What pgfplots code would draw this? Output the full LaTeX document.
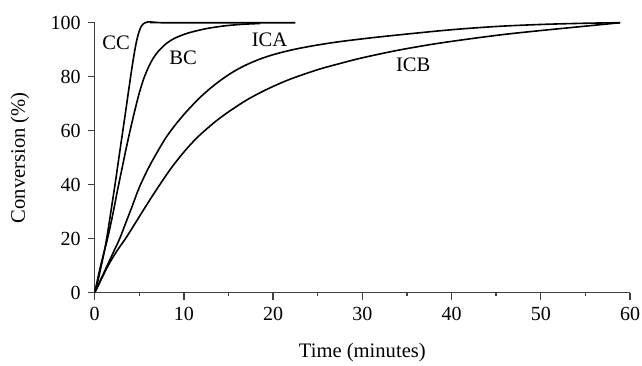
\documentclass[border=0pt]{standalone}
\usepackage{fontspec}
\setmainfont{Liberation Serif}
\usepackage{pgfplots}
\pgfplotsset{compat=1.18}
\begin{document}
\begin{tikzpicture}
\begin{axis}[
  name=ax,
  scale only axis,
  width=267.7pt, height=135pt,
  xmin=0, xmax=60, ymin=0, ymax=100,
  axis lines=left,
  axis line style={-, black!75, line width=0.7pt},
  xtick={0,10,...,60}, ytick={0,20,...,100},
  minor xtick={5,15,...,55},
  tick align=outside,
  major tick length=3.5pt, minor tick length=1.8pt,
  tick style={black!75, line width=0.7pt},
  /pgf/number format/assume math mode=true,
  tick label style={font=\fontsize{10}{12}\selectfont},
  xlabel={Time (minutes)},
  ylabel={Conversion (\%)},
  label style={font=\fontsize{10.3}{12}\selectfont},
  xlabel style={anchor=center, at={(axis description cs:0.5,-0.22)}},
  ylabel style={anchor=center, at={(axis description cs:-0.1397,0.5)}},
  clip=false,
]
% CC
\addplot[black, line width=0.8pt, smooth, tension=0.5] coordinates {
(0,0)(0.3,3.5)(0.67,9)(1.0,14)(1.34,20)(1.7,27.5)(2.0,34)(2.3,40.5)(2.65,48.5)(3.0,56.5)(3.4,65.5)(3.8,74.8)(4.2,83.8)(4.55,90.8)(4.85,95.3)(5.15,98.2)(5.5,99.7)(6.0,100.3)(6.6,100.2)(7.5,100)(22.5,100)
};
% BC
\addplot[black, line width=0.8pt, smooth, tension=0.5] coordinates {
(0,0)(0.67,10)(1.4,19.5)(2.0,28.5)(2.5,37)(3.0,45)(3.5,53)(4.0,60.5)(4.5,67.5)(5.0,74)(5.5,79.3)(6.0,83.3)(6.5,86.5)(7.1,89.3)(8.0,92.2)(9.0,94.3)(10.5,96.2)(12.5,97.8)(14.5,98.8)(16.5,99.4)(18.5,99.7)
};
% ICA
\addplot[black, line width=0.8pt, smooth, tension=0.5] coordinates {
(0,0)(0.7,5)(1.4,10)(2.1,15)(2.8,20)(3.5,26)(4.2,32)(5.0,39)(6.0,46)(7.0,52)(8.0,57.5)(9.0,62)(10,66)(11,69.6)(12,72.9)(13,75.8)(14,78.4)(15,80.7)(16,82.7)(17,84.4)(18,85.85)(19,87.1)(20,88.15)(21,89.05)(22,89.85)(23,90.55)(25,91.75)(27.5,93.0)(31,94.4)(35,95.8)(40,97.4)(45,98.6)(50,99.35)(55,99.8)(58.9,100)
};
% ICB
\addplot[black, line width=0.8pt, smooth, tension=0.5] coordinates {
(0,0)(0.75,5)(1.5,10)(2.5,15.5)(3.45,20)(4.5,25.5)(5.5,30.8)(6.5,36)(7.5,41)(8.5,45.8)(9.5,50.1)(10.5,54)(11.5,57.5)(12.5,60.5)(13.5,63.3)(14.5,65.8)(15.5,68.1)(17,71.3)(18.5,74.0)(20,76.4)(22,79.2)(25,82.6)(27.5,84.9)(30,87.0)(34,89.8)(38,92.1)(42,94.0)(46,95.7)(50,97.1)(54,98.4)(58.9,100)
};
\node[font=\fontsize{10.3}{12}\selectfont] at (axis cs:2.4,92.5) {CC};
\node[font=\fontsize{10.3}{12}\selectfont] at (axis cs:9.9,87) {BC};
\node[font=\fontsize{10.3}{12}\selectfont] at (axis cs:19.6,93.6) {ICA};
\node[font=\fontsize{10.3}{12}\selectfont] at (axis cs:35.7,84.3) {ICB};
\end{axis}
\pgfresetboundingbox
\path[use as bounding box] ([shift={(-47.35pt,-36.65pt)}]ax.south west) rectangle ([shift={(6pt,11.35pt)}]ax.north east);
\end{tikzpicture}
\end{document}
